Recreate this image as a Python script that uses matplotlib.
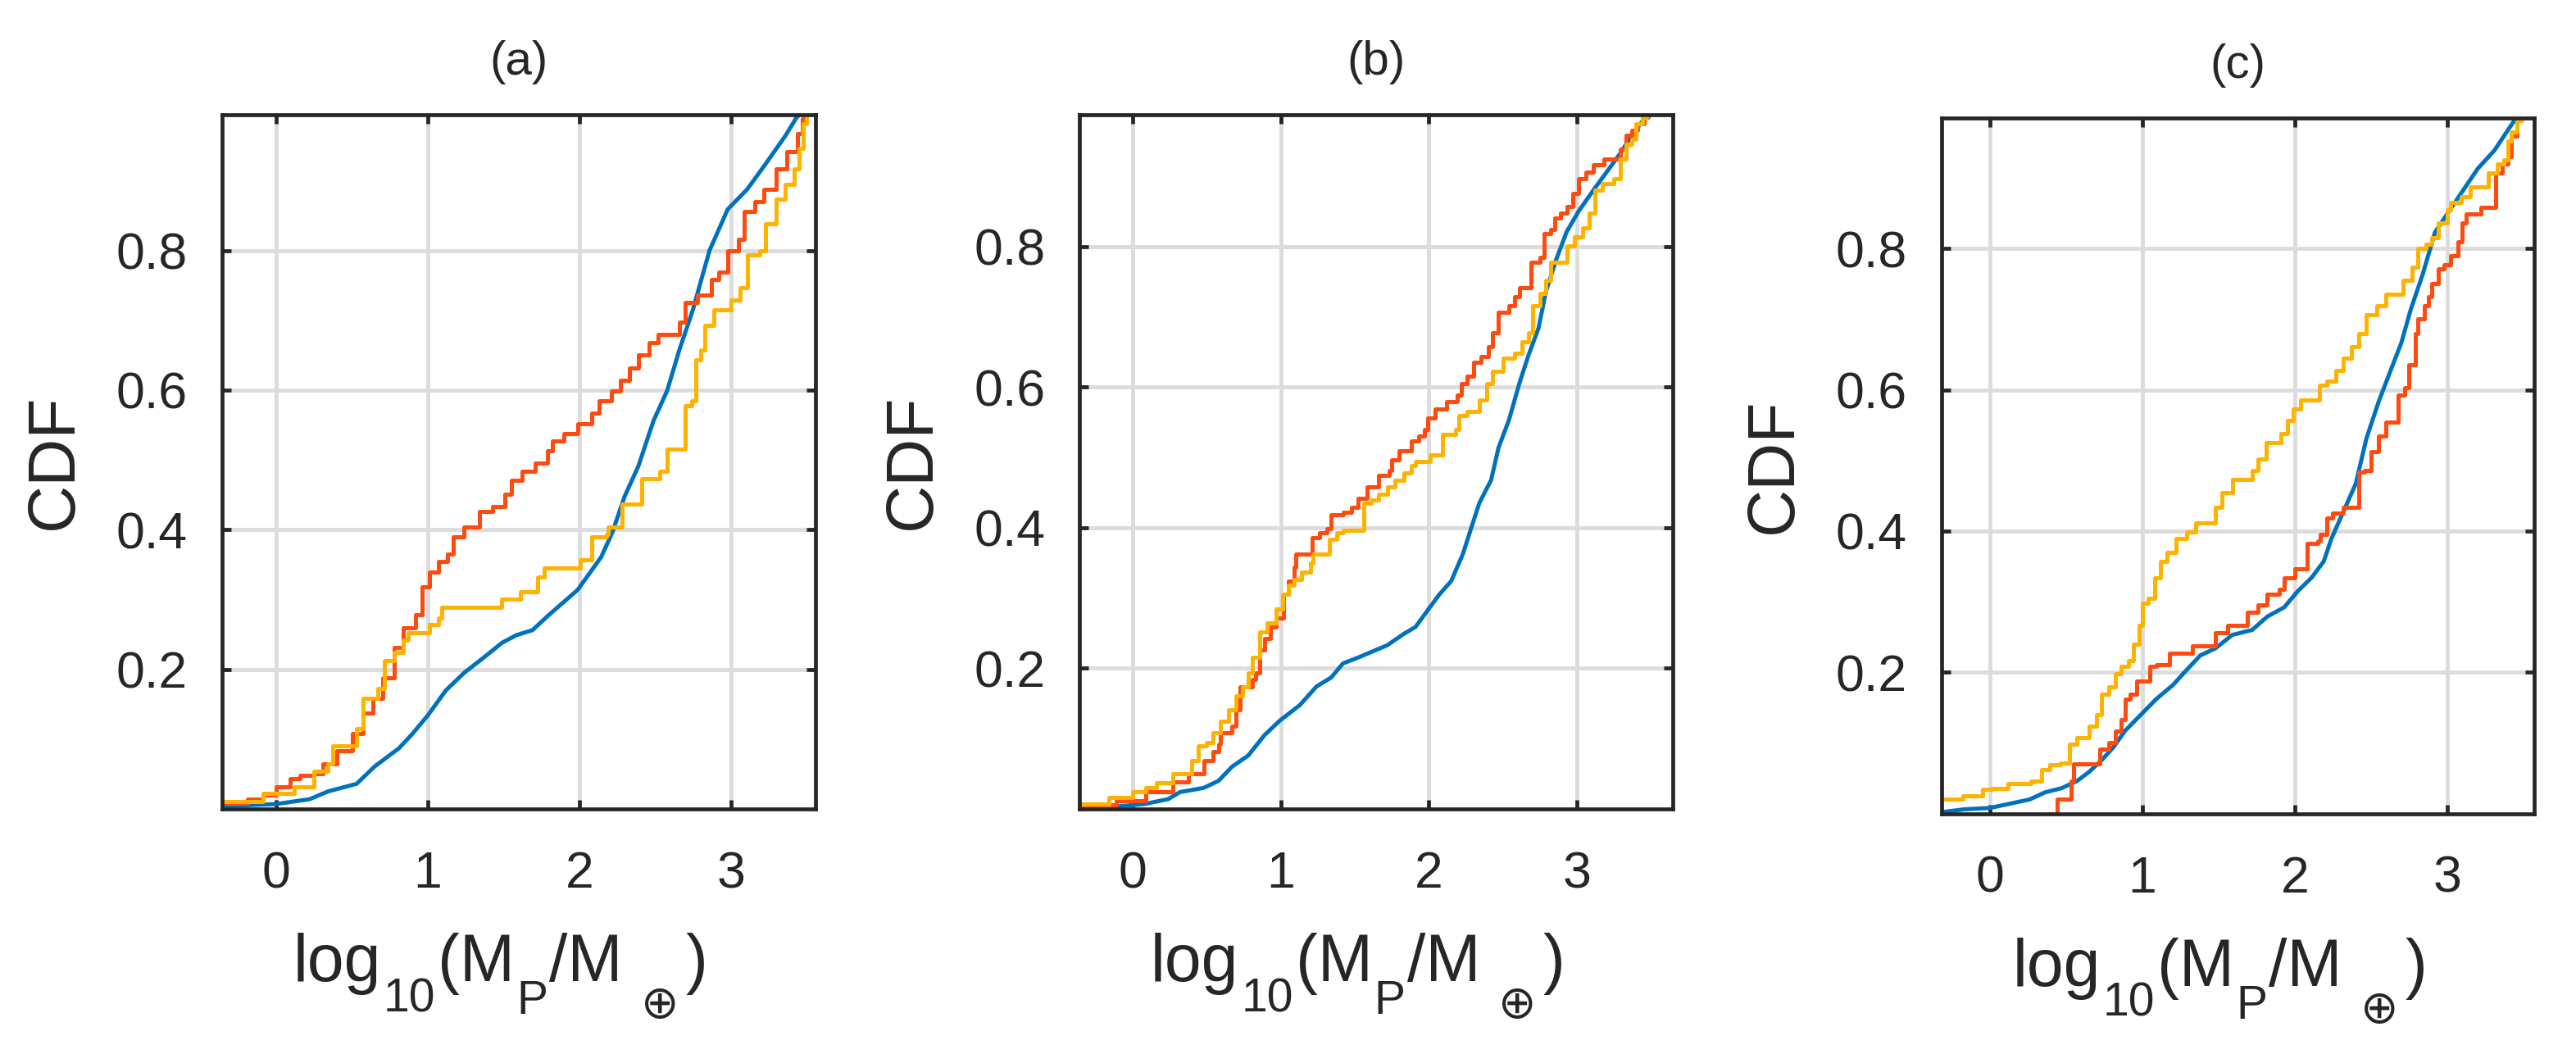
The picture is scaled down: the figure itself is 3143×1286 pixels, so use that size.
#!/usr/bin/env python3
"""CDF of planet masses log10(Mp/Me) for three samples, panels (a)-(c)."""

import matplotlib
matplotlib.use("Agg")
import matplotlib.pyplot as plt
from matplotlib.transforms import offset_copy

plt.rcParams["font.family"] = ["Liberation Sans", "DejaVu Sans"]

BLUE = "#0072BD"
RED = "#FF4A10"
YELLOW = "#FFB300"
INK = "#262626"

# ---- panel (a): values ----
a_blue_x = [-0.36, 0.0, 0.22, 0.34, 0.53, 0.65, 0.81, 0.90, 1.0, 1.12, 1.24, 1.37, 1.49,
            1.585, 1.69, 1.80, 1.99, 2.145, 2.22, 2.30, 2.39, 2.49, 2.58, 2.66, 2.75,
            2.86, 2.98, 3.11, 3.23, 3.36, 3.43, 3.475]
a_blue_y = [0.004, 0.007, 0.014, 0.025, 0.036, 0.061, 0.087, 0.108, 0.134, 0.17, 0.195,
            0.217, 0.238, 0.249, 0.256, 0.278, 0.314, 0.361, 0.397, 0.448, 0.491, 0.556,
            0.599, 0.657, 0.715, 0.80, 0.859, 0.888, 0.924, 0.964, 0.989, 1.0]
a_red_x = [-0.36, -0.19, -0.09, 0.0, 0.093, 0.155, 0.25, 0.31, 0.40, 0.50, 0.575, 0.64,
           0.70, 0.78, 0.84, 0.92, 0.96, 1.01, 1.07, 1.13, 1.17, 1.24, 1.34, 1.43, 1.51,
           1.55, 1.62, 1.71, 1.79, 1.82, 1.90, 1.99, 2.08, 2.13, 2.21, 2.27, 2.33, 2.39,
           2.46, 2.52, 2.66, 2.70, 2.78, 2.875, 2.92, 2.98, 3.05, 3.09, 3.16, 3.22, 3.30,
           3.37, 3.44, 3.475, 3.50]
a_red_y = [0.008, 0.014, 0.02, 0.032, 0.043, 0.048, 0.05, 0.065, 0.083, 0.108, 0.137,
           0.159, 0.188, 0.231, 0.26, 0.278, 0.318, 0.339, 0.354, 0.365, 0.39, 0.404,
           0.426, 0.433, 0.451, 0.471, 0.484, 0.495, 0.513, 0.527, 0.538, 0.552, 0.567,
           0.585, 0.599, 0.614, 0.632, 0.65, 0.668, 0.68, 0.697, 0.726, 0.736, 0.758,
           0.769, 0.80, 0.816, 0.856, 0.87, 0.888, 0.917, 0.942, 0.967, 0.989, 1.0]
a_yel_x = [-0.36, -0.09, 0.12, 0.25, 0.34, 0.37, 0.53, 0.575, 0.67, 0.715, 0.78, 0.84,
           0.87, 1.01, 1.07, 1.09, 1.485, 1.61, 1.725, 1.77, 2.005, 2.08, 2.18, 2.19,
           2.285, 2.41, 2.53, 2.58, 2.70, 2.74, 2.77, 2.80, 2.83, 2.89, 3.0, 3.06, 3.11,
           3.19, 3.23, 3.30, 3.36, 3.42, 3.45, 3.48, 3.50]
a_yel_y = [0.011, 0.022, 0.032, 0.054, 0.065, 0.09, 0.115, 0.159, 0.173, 0.213, 0.224,
           0.242, 0.253, 0.264, 0.274, 0.289, 0.30, 0.311, 0.332, 0.345, 0.357, 0.39,
           0.393, 0.404, 0.437, 0.473, 0.484, 0.516, 0.578, 0.585, 0.643, 0.657, 0.693,
           0.715, 0.729, 0.747, 0.794, 0.80, 0.838, 0.874, 0.895, 0.917, 0.946, 0.982,
           1.0]

# ---- panel (b) ----
b_blue_x = [-0.36, -0.19, 0.08, 0.24, 0.32, 0.48, 0.58, 0.67, 0.78, 0.89, 0.99, 1.13,
            1.24, 1.34, 1.42, 1.53, 1.72, 1.83, 1.91, 2.0, 2.07, 2.15, 2.23, 2.28, 2.34,
            2.42, 2.47, 2.54, 2.61, 2.67, 2.74, 2.79, 2.86, 2.93, 3.01, 3.12, 3.20, 3.29,
            3.36, 3.44, 3.48, 3.50]
b_blue_y = [0.0, 0.002, 0.007, 0.014, 0.024, 0.03, 0.04, 0.06, 0.076, 0.105, 0.125,
            0.148, 0.174, 0.187, 0.207, 0.216, 0.233, 0.249, 0.259, 0.285, 0.305, 0.324,
            0.363, 0.396, 0.435, 0.468, 0.514, 0.553, 0.605, 0.644, 0.684, 0.736, 0.782,
            0.821, 0.85, 0.883, 0.906, 0.932, 0.955, 0.978, 0.988, 1.0]
b_red_x = [-0.36, -0.19, -0.11, 0.09, 0.27, 0.375, 0.48, 0.54, 0.58, 0.59, 0.67, 0.70,
           0.725, 0.81, 0.83, 0.86, 0.89, 0.93, 0.97, 1.02, 1.05, 1.09, 1.10, 1.21, 1.26,
           1.31, 1.34, 1.42, 1.48, 1.52, 1.58, 1.66, 1.73, 1.75, 1.80, 1.88, 1.93, 1.97,
           1.99, 2.04, 2.12, 2.19, 2.22, 2.26, 2.30, 2.35, 2.40, 2.43, 2.47, 2.54, 2.58,
           2.61, 2.69, 2.75, 2.78, 2.82, 2.85, 2.89, 2.93, 2.97, 3.01, 3.06, 3.11, 3.18,
           3.29, 3.33, 3.37, 3.41, 3.45, 3.48, 3.50]
b_red_y = [0.003, 0.006, 0.012, 0.024, 0.038, 0.05, 0.069, 0.082, 0.092, 0.108, 0.118,
           0.141, 0.174, 0.184, 0.193, 0.226, 0.242, 0.259, 0.272, 0.305, 0.324, 0.344,
           0.363, 0.386, 0.393, 0.399, 0.419, 0.422, 0.429, 0.442, 0.458, 0.475, 0.481,
           0.497, 0.51, 0.524, 0.53, 0.54, 0.556, 0.569, 0.579, 0.589, 0.605, 0.615,
           0.635, 0.644, 0.658, 0.677, 0.707, 0.716, 0.729, 0.742, 0.778, 0.785, 0.818,
           0.824, 0.84, 0.848, 0.857, 0.876, 0.896, 0.906, 0.916, 0.924, 0.939, 0.958,
           0.965, 0.975, 0.984, 0.99, 1.0]
b_yel_x = [-0.36, -0.16, 0.0, 0.09, 0.16, 0.27, 0.40, 0.44, 0.50, 0.54, 0.59, 0.645,
           0.70, 0.74, 0.78, 0.81, 0.86, 0.91, 0.97, 1.01, 1.05, 1.09, 1.14, 1.20, 1.22,
           1.33, 1.38, 1.42, 1.56, 1.61, 1.66, 1.72, 1.77, 1.83, 1.88, 1.91, 2.01, 2.09,
           2.18, 2.20, 2.26, 2.34, 2.39, 2.43, 2.50, 2.58, 2.63, 2.67, 2.70, 2.75, 2.79,
           2.82, 2.93, 2.98, 3.04, 3.08, 3.12, 3.17, 3.25, 3.29, 3.33, 3.37, 3.40, 3.44,
           3.47, 3.50]
b_yel_y = [0.007, 0.016, 0.024, 0.03, 0.037, 0.05, 0.069, 0.09, 0.095, 0.108, 0.125,
           0.141, 0.161, 0.174, 0.193, 0.216, 0.252, 0.265, 0.285, 0.305, 0.318, 0.327,
           0.337, 0.35, 0.363, 0.383, 0.393, 0.396, 0.435, 0.439, 0.448, 0.458, 0.468,
           0.478, 0.488, 0.494, 0.504, 0.533, 0.54, 0.56, 0.566, 0.582, 0.605, 0.622,
           0.641, 0.648, 0.664, 0.677, 0.716, 0.733, 0.752, 0.778, 0.801, 0.814, 0.827,
           0.847, 0.88, 0.89, 0.896, 0.925, 0.945, 0.952, 0.975, 0.984, 0.99, 1.0]

# ---- panel (c) ----
c_blue_x = [-0.32, -0.17, 0.0, 0.13, 0.26, 0.36, 0.47, 0.57, 0.65, 0.73, 0.81, 0.885,
            0.99, 1.09, 1.20, 1.28, 1.38, 1.48, 1.59, 1.72, 1.82, 1.93, 2.02, 2.11, 2.19,
            2.24, 2.32, 2.40, 2.47, 2.55, 2.63, 2.70, 2.76, 2.84, 2.92, 3.0, 3.10, 3.20,
            3.31, 3.39, 3.44, 3.47]
c_blue_y = [0.002, 0.006, 0.008, 0.014, 0.02, 0.03, 0.036, 0.046, 0.059, 0.075, 0.094,
            0.117, 0.14, 0.162, 0.182, 0.201, 0.224, 0.234, 0.253, 0.26, 0.279, 0.292,
            0.315, 0.334, 0.357, 0.389, 0.428, 0.467, 0.531, 0.583, 0.628, 0.667, 0.713,
            0.764, 0.823, 0.849, 0.881, 0.913, 0.939, 0.965, 0.981, 1.0]
c_red_x = [0.38, 0.44, 0.53, 0.55, 0.72, 0.78, 0.82, 0.86, 0.885, 0.92, 0.96, 1.05, 1.09,
           1.18, 1.33, 1.48, 1.56, 1.69, 1.76, 1.82, 1.90, 1.93, 2.0, 2.08, 2.15, 2.17,
           2.21, 2.25, 2.32, 2.42, 2.46, 2.50, 2.55, 2.60, 2.68, 2.72, 2.75, 2.79, 2.81,
           2.85, 2.88, 2.90, 2.94, 2.98, 3.02, 3.07, 3.10, 3.125, 3.22, 3.32, 3.36, 3.40,
           3.42, 3.46, 3.48]
c_red_y = [0.0, 0.02, 0.046, 0.07, 0.091, 0.10, 0.117, 0.133, 0.162, 0.169, 0.188, 0.208,
           0.211, 0.227, 0.237, 0.256, 0.266, 0.285, 0.295, 0.311, 0.318, 0.334, 0.347,
           0.383, 0.386, 0.395, 0.418, 0.425, 0.434, 0.483, 0.486, 0.512, 0.535, 0.554,
           0.593, 0.603, 0.635, 0.68, 0.70, 0.719, 0.732, 0.751, 0.771, 0.777, 0.79, 0.81,
           0.836, 0.849, 0.858, 0.907, 0.92, 0.93, 0.959, 0.981, 1.0]
c_yel_x = [-0.32, -0.18, -0.05, 0.01, 0.12, 0.27, 0.34, 0.39, 0.46, 0.52, 0.57, 0.65,
           0.70, 0.73, 0.78, 0.82, 0.86, 0.91, 0.94, 0.98, 1.0, 1.04, 1.08, 1.12, 1.16,
           1.22, 1.29, 1.35, 1.48, 1.52, 1.59, 1.72, 1.76, 1.81, 1.91, 1.95, 1.99, 2.04,
           2.16, 2.21, 2.27, 2.32, 2.37, 2.42, 2.47, 2.54, 2.60, 2.71, 2.77, 2.81, 2.86,
           2.90, 2.94, 3.0, 3.02, 3.09, 3.15, 3.27, 3.33, 3.37, 3.40, 3.42, 3.46, 3.49]
c_yel_y = [0.02, 0.025, 0.034, 0.036, 0.043, 0.046, 0.062, 0.069, 0.072, 0.098, 0.107,
           0.124, 0.14, 0.169, 0.179, 0.198, 0.208, 0.217, 0.24, 0.266, 0.298, 0.305,
           0.334, 0.357, 0.37, 0.389, 0.399, 0.412, 0.434, 0.454, 0.473, 0.486, 0.502,
           0.525, 0.538, 0.557, 0.573, 0.586, 0.606, 0.612, 0.628, 0.645, 0.661, 0.68,
           0.706, 0.719, 0.735, 0.755, 0.774, 0.80, 0.806, 0.816, 0.836, 0.855, 0.865,
           0.874, 0.887, 0.907, 0.92, 0.926, 0.952, 0.965, 0.981, 1.0]

panels = [
    ("(a)", (a_blue_x, a_blue_y), (a_red_x, a_red_y), (a_yel_x, a_yel_y), (-0.36, 3.56), 0.995),
    ("(b)", (b_blue_x, b_blue_y), (b_red_x, b_red_y), (b_yel_x, b_yel_y), (-0.36, 3.645), 0.988),
    ("(c)", (c_blue_x, c_blue_y), (c_red_x, c_red_y), (c_yel_x, c_yel_y), (-0.32, 3.57), 0.985),
]
axes_rects = [
    [0.0861, 0.2325, 0.2305, 0.659],
    [0.4190, 0.2325, 0.2303, 0.659],
    [0.7536, 0.2281, 0.2301, 0.660],
]

# x label drawn piece by piece: (text, fontsize, baseline shift px, gap before px, family)
label_pieces = [
    ("log", 58, 0, 0, "Liberation Sans"),
    ("10", 41, -37, 3, "Liberation Sans"),
    ("(M", 58, 0, 3, "Liberation Sans"),
    ("P", 41, -40, 2, "Liberation Sans"),
    ("/M", 58, 0, 2, "Liberation Sans"),
    ("\u2295", 40, -45, 22, "DejaVu Sans"),
    (")", 58, 0, 8, "Liberation Sans"),
]


def draw_xlabel(fig, ax, start_px, base_px):
    renderer = fig.canvas.get_renderer()
    x = start_px
    for s, size, dy, gap, fam in label_pieces:
        x += gap
        tr = offset_copy(ax.transAxes, fig=fig, x=x, y=base_px + dy, units="dots")
        t = ax.text(0, 0, s, transform=tr, ha="left", va="baseline", fontsize=size,
                    color=INK, family=[fam, "DejaVu Sans"], clip_on=False)
        x += t.get_window_extent(renderer).width


fig = plt.figure(figsize=(31.43, 12.86), dpi=100)

for rect, (title, blue, red, yel, xlim, ytop) in zip(axes_rects, panels):
    ax = fig.add_axes(rect)
    ax.plot(blue[0], blue[1], color=BLUE, lw=3.6)
    ax.plot(red[0], red[1], color=RED, lw=3.6, drawstyle="steps-post")
    ax.plot(yel[0], yel[1], color=YELLOW, lw=3.6, drawstyle="steps-post")

    ax.set_xlim(*xlim)
    ax.set_ylim(0, ytop)
    ax.set_xticks([0, 1, 2, 3])
    ax.set_yticks([0.2, 0.4, 0.6, 0.8])
    ax.set_yticklabels(["0.2", "0.4", "0.6", "0.8"])
    ax.grid(True, color="#dcdcdc", lw=3.5)
    ax.set_axisbelow(True)
    for s in ax.spines.values():
        s.set_linewidth(3.4)
        s.set_color(INK)
    ax.tick_params(direction="in", length=8, width=3.4, colors=INK,
                   top=True, right=True, labelsize=45)
    ax.tick_params(axis="y", pad=30)
    ax.tick_params(axis="x", pad=36)

    ax.text(0.5, 1.075, title, transform=ax.transAxes, ha="center", va="center",
            fontsize=42, color=INK)
    ax.text(-0.281, 0.5, "CDF", transform=ax.transAxes, rotation=90,
            ha="center", va="center", fontsize=58, color=INK)
    draw_xlabel(fig, ax, 87, -210)

fig.savefig("out.png", dpi=100)
